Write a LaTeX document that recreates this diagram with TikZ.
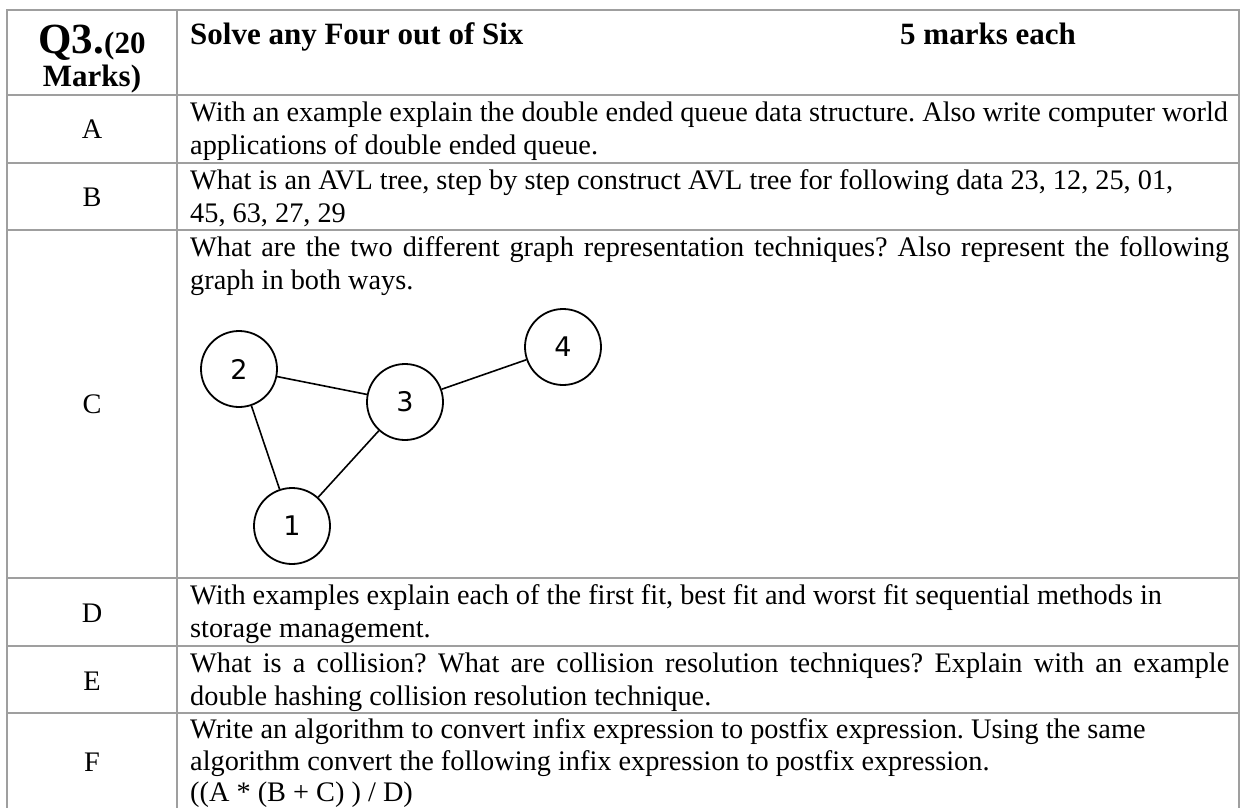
\documentclass[tikz,border=0pt]{standalone}
\usepackage{fontspec}
\setmainfont{Liberation Serif}
\newfontfamily\graphfont{DejaVu Sans}
\newcommand\rowfont{\fontsize{28.3}{33}\selectfont}
\newcommand\boldfont{\fontsize{31}{33}\selectfont\bfseries}
\frenchspacing
\tikzset{
  tabline/.style={draw=gray!75, line width=1.3pt},
  txt/.style={anchor=base west, inner sep=0pt, font=\rowfont},
  lab/.style={anchor=base, inner sep=0pt, font=\rowfont},
  vertex/.style={circle, draw, line width=1.8pt, minimum size=76pt, inner sep=0pt, font=\graphfont\fontsize{27}{27}\selectfont}
}
\begin{document}
\begin{tikzpicture}[x=1pt,y=-1pt]
  \useasboundingbox (0,0) rectangle (1242,808);
  % table frame
  \draw[tabline] (7,808) -- (7,10) -- (1239,10) -- (1239,808);
  \draw[tabline] (177,10) -- (177,808);
  \foreach \y in {95,163,230,578,646,713}
    \draw[tabline] (7,\y) -- (1239,\y);
  % header
  \node[anchor=base, inner sep=0pt] (q3) at (92,53) {\bfseries{\fontsize{43}{43}\selectfont Q3.}{\fontsize{31}{31}\selectfont (20}};
  \node[anchor=base, inner sep=0pt, font=\boldfont] (marks) at (92,86) {Marks)};
  \node[anchor=base west, inner sep=0pt, font=\boldfont] (solve) at (190,45) {Solve any Four out of Six};
  \node[anchor=base west, inner sep=0pt, font=\boldfont] (each) at (900,45) {5 marks each};
  % row labels
  \node[lab] (la) at (92,138) {A};
  \node[lab] (lb) at (92,206) {B};
  \node[lab] (lc) at (92,413) {C};
  \node[lab] (ld) at (92,622) {D};
  \node[lab] (le) at (92,690) {E};
  \node[lab] (lf) at (92,771) {F};
  % questions
  \node[txt] (a1) at (190,121) {With an example explain the double ended queue data structure. Also write computer world};
  \node[txt] (a2) at (190,154) {applications of double ended queue.};
  \node[txt] (b1) at (190,189) {What is an AVL tree, step by step construct AVL tree for following data 23, 12, 25, 01,};
  \node[txt] (b2) at (190,222) {45, 63, 27, 29};
  \node[txt] (c1) at (190,256) {\makebox[1039pt][s]{What are the two different graph representation techniques? Also represent the following}};
  \node[txt] (c2) at (190,289) {graph in both ways.};
  \node[txt] (d1) at (190,604) {With examples explain each of the first fit, best fit and worst fit sequential methods in};
  \node[txt] (d2) at (190,637) {storage management.};
  \node[txt] (e1) at (190,672) {\makebox[1039pt][s]{What is a collision? What are collision resolution techniques? Explain with an example}};
  \node[txt] (e2) at (190,705) {double hashing collision resolution technique.};
  \node[txt] (f1) at (190,738) {Write an algorithm to convert infix expression to postfix expression. Using the same};
  \node[txt] (f2) at (190,770) {algorithm convert the following infix expression to postfix expression.};
  \node[txt] (f3) at (190,801) {((A * (B + C) ) / D)};
  % graph
  \node[vertex] (n1) at (292,526) {1};
  \node[vertex] (n2) at (239,369) {2};
  \node[vertex] (n3) at (405,402) {3};
  \node[vertex] (n4) at (563,347) {4};
  \draw[line width=1.6pt] (n2) -- (n3);
  \draw[line width=1.6pt] (n2) -- (n1);
  \draw[line width=1.6pt] (n3) -- (n1);
  \draw[line width=1.6pt] (n3) -- (n4);
\end{tikzpicture}
\end{document}
